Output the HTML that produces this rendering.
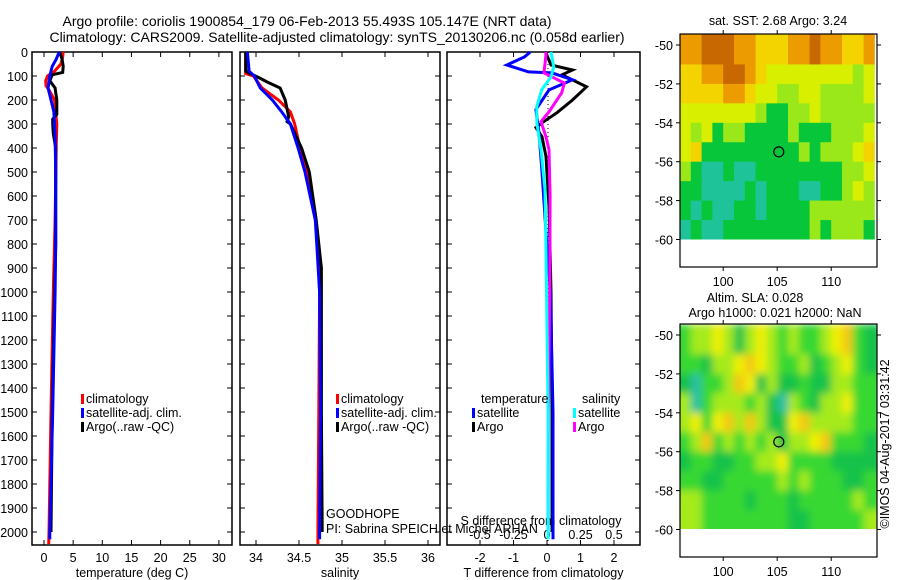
<!DOCTYPE html>
<html><head><meta charset="utf-8">
<style>
html,body{margin:0;padding:0;background:#fff;}
svg{display:block;font-family:"Liberation Sans",sans-serif;}
text{fill:#000;}
</style></head>
<body>
<svg id="fig" width="900" height="580" viewBox="0 0 900 580" xmlns="http://www.w3.org/2000/svg">
<defs>
<filter id="blur" x="-5%" y="-5%" width="110%" height="110%"><feGaussianBlur stdDeviation="4"/></filter>
<clipPath id="slaclip"><rect x="680" y="324" width="197" height="205"/></clipPath>
</defs>
<text x="307" y="26" font-size="14" text-anchor="middle">Argo profile: coriolis 1900854_179 06-Feb-2013 55.493S 105.147E (NRT data)</text>
<text x="337" y="42" font-size="14" text-anchor="middle">Climatology: CARS2009. Satellite-adjusted climatology: synTS_20130206.nc (0.058d earlier)</text>
<g id="plots"></g>
<text transform="translate(889,444) rotate(-90)" font-size="12.5" text-anchor="middle">©IMOS 04-Aug-2017 03:31:42</text>
</svg>
<script>
// ---------- data ----------
const tempClimDepth = [0,20,50,80,100,120,140,160,200,300,400,700,1000,1500,2000,2050];
const tempClimVal   = [3.3,3.2,2.9,1.8,0.6,0.3,0.35,0.9,1.8,2.2,2.1,1.9,1.6,1.2,0.85,0.8];
const tempSatDepth  = [0,30,60,100,150,200,250,350,500,800,1000,1500,2000,2030];
const tempSatVal    = [2.6,2.1,1.4,1.0,0.7,1.2,1.7,1.9,2.0,2.0,1.9,1.5,1.0,1.0];
const tempArgoDepth = [0,30,60,85,95,120,150,200,260,280,300,340,400,800,1000,1500,2000];
const tempArgoVal   = [2.7,3.1,3.3,3.2,1.4,1.0,1.9,2.2,2.2,1.5,1.5,1.6,2.0,2.0,1.8,1.4,1.2];
const salClimDepth  = [0,90,100,150,200,250,300,400,500,600,700,800,1000,1500,2000,2050];
const salClimVal    = [33.88,33.88,33.97,34.07,34.26,34.40,34.45,34.51,34.59,34.65,34.69,34.72,34.74,34.73,34.72,34.72];
const salSatDepth   = [0,80,100,150,200,250,300,400,500,700,1000,1500,2000,2030];
const salSatVal     = [33.90,33.92,33.98,34.05,34.19,34.30,34.40,34.49,34.57,34.69,34.74,34.75,34.74,34.74];
const salArgoDepth  = [0,80,110,125,150,200,270,290,300,400,500,700,900,1000,1500,2000];
const salArgoVal    = [33.88,33.88,34.05,34.13,34.28,34.34,34.38,34.36,34.40,34.53,34.62,34.70,34.76,34.76,34.76,34.77];
const dTSatDepth  = [0,20,54,83,87,116,158,240,336,500,750,1000,1500,2000,2030];
const dTSatVal    = [-0.5,-0.67,-1.2,-0.55,0.15,0.76,0.06,-0.33,-0.24,-0.15,-0.03,0.1,0.18,0.18,0.18];
const dTArgoDepth = [0,4,54,75,95,145,200,253,295,315,353,436,643,1000,1500,2000];
const dTArgoVal   = [0,-0.03,0.12,0.76,0.45,1.18,0.76,0.3,-0.15,-0.33,-0.15,-0.03,0.06,0.12,0.15,0.15];
const dSSatDepth  = [0,62,104,158,228,295,407,573,800,1500,2030];
const dSSatVal    = [0.03,0.05,0.03,-0.04,-0.076,-0.076,-0.045,-0.015,-0.008,0.008,0.008];
const dSArgoDepth = [0,12,50,87,129,170,249,290,353,407,600,1000,1500,2000];
const dSArgoVal   = [-0.01,-0.008,-0.015,-0.023,0.13,0.11,0.015,-0.045,-0.008,0.015,0.023,0.02,0.01,0.008];
const depthTicks = [0,100,200,300,400,500,600,700,800,900,1000,1100,1200,1300,1400,1500,1600,1700,1800,1900,2000];
const tempTicks = [0,5,10,15,20,25,30];
const salTicks = ['34','34.5','35','35.5','36'];
const dTTicks = ['-2','-1','0','1','2'];
const dSTicks = ['-0.5','-0.25','0','0.25','0.5'];
const mapLonTicks = [100,105,110];
const mapLatTicks = [-50,-52,-54,-56,-58,-60];
const argoLon = 105.147, argoLat = -55.493;
const sstColors = ['#1ec39a','#08c63a','#9ae81a','#d8f000','#f4d400','#ec9c00','#c86800'];
const slaColors = ['#2cbfa2','#14c248','#38d830','#a6ea1e','#f0f000','#f2c818'];
const sstGrid = [
'556665544455655445',
'445566543333333323',
'444455433223322223',
'333333321122322222',
'323122111121112223',
'341111111112122234',
'210010011111111223',
'110000101110011232',
'101001101111222222',
'010011111111212221'];
const slaGrid = [
'233431343232234521',
'221334543223123421',
'102235413112113322',
'302333231032133422',
'342453531145333322',
'235232323133452221',
'122112233422221111',
'221122222323222112',
'332222122212222232',
'332222222211222223'];

// ---------- helpers ----------
const NS='http://www.w3.org/2000/svg';
const root=document.getElementById('plots');
function mk(tag,attrs,parent){const e=document.createElementNS(NS,tag);for(const k in attrs)e.setAttribute(k,attrs[k]);(parent||root).appendChild(e);return e;}
const yTop=52, yBot=545;
const yD=d=>52+d*0.24;
function txt(x,y,s,size,anchor,parent){const t=mk('text',{x:x,y:y,'font-size':size||12.5,'text-anchor':anchor||'start'},parent);t.textContent=s;return t;}

function panel(name,x0,x1,fx,ticksVals,ticksLab,depthLabels,xtitle){
  const g=mk('g',{});
  
  
  mk('rect',{x:x0,y:yTop,width:x1-x0,height:yBot-yTop,fill:'none',stroke:'#000','stroke-width':1.5},g);
  depthTicks.forEach(d=>{
    const y=yD(d);
    mk('line',{x1:x0,y1:y,x2:x0+5,y2:y,stroke:'#000'},g);
    mk('line',{x1:x1,y1:y,x2:x1-5,y2:y,stroke:'#000'},g);
    if(depthLabels){const t=txt(x0-4,y+5,String(d),12.5,'end',g);}
  });
  ticksVals.forEach((v,i)=>{
    const x=fx(v);
    mk('line',{x1:x,y1:yTop,x2:x,y2:yTop+5,stroke:'#000'},g);
    mk('line',{x1:x,y1:yBot,x2:x,y2:yBot-5,stroke:'#000'},g);
    const t=txt(x,562,ticksLab[i],12.5,'middle',g);
    
    
  });
  const tt=txt((x0+x1)/2,577,xtitle,12.5,'middle',g);
  
  
  return g;
}
function line(g,name,depths,vals,fx,color,w){
  const pts=depths.map((d,i)=>fx(vals[i]).toFixed(1)+','+yD(d).toFixed(1)).join(' ');
  const p=mk('polyline',{points:pts,fill:'none',stroke:color,'stroke-width':w||3,'stroke-linejoin':'miter'},g);
  
  
}
function legend(g,x,y,color,label,name){
  mk('rect',{x:x-3,y:y-9,width:3,height:10,fill:color},g);
  const t=txt(x+2,y,label,12.5,'start',g);
  
  
}

// ---------- temperature panel ----------
const fT=t=>44+t*5.83;
const gT=panel('temperature-panel',32,232,fT,tempTicks,tempTicks.map(String),true,'temperature (deg C)');
line(gT,'temp-climatology-line',tempClimDepth,tempClimVal,fT,'#ff0000');
line(gT,'temp-argo-line',tempArgoDepth,tempArgoVal,fT,'#000000');
line(gT,'temp-satellite-line',tempSatDepth,tempSatVal,fT,'#0000ff');
legend(gT,84,403,'#ff0000','climatology','legend-climatology');
legend(gT,84,417,'#0000ff','satellite-adj. clim.','legend-satellite');
legend(gT,84,431,'#000000','Argo(..raw -QC)','legend-argo');

// ---------- salinity panel ----------
const fS=s=>256+(s-34)*86;
const gS=panel('salinity-panel',240,440,fS,salTicks.map(Number),salTicks,false,'salinity');
line(gS,'sal-climatology-line',salClimDepth,salClimVal,fS,'#ff0000');
line(gS,'sal-argo-line',salArgoDepth,salArgoVal,fS,'#000000');
line(gS,'sal-satellite-line',salSatDepth,salSatVal,fS,'#0000ff');
legend(gS,339,403,'#ff0000','climatology','legend-climatology');
legend(gS,339,417,'#0000ff','satellite-adj. clim.','legend-satellite');
legend(gS,339,431,'#000000','Argo(..raw -QC)','legend-argo');
txt(326,518,'GOODHOPE',12.5,'start',gS);
txt(326,533,'PI: Sabrina SPEICH et Michel ARHAN',12.5,'start',gS);

// ---------- difference panel ----------
const fdT=v=>547+v*33.5;
const fdS=v=>547+v*134;
const gD=panel('difference-panel',447,640,fdT,dTTicks.map(Number),dTTicks,false,'T difference from climatology');
mk('line',{x1:548,y1:yTop,x2:548,y2:yBot,stroke:'#000','stroke-dasharray':'1,3'},gD);
dSTicks.forEach(v=>{const t=txt(fdS(+v),539,v,12.5,'middle',gD);});
txt(541,525,'S difference from climatology',12.5,'middle',gD);
line(gD,'dt-argo-line',dTArgoDepth,dTArgoVal,fdT,'#000000');
line(gD,'dt-satellite-line',dTSatDepth,dTSatVal,fdT,'#0000ff');
line(gD,'ds-argo-line',dSArgoDepth,dSArgoVal,fdS,'#ff00ff');
line(gD,'ds-satellite-line',dSSatDepth,dSSatVal,fdS,'#00ffff');
txt(481,403,'temperature',12.5,'start',gD);
txt(582,403,'salinity',12.5,'start',gD);
legend(gD,475,417,'#0000ff','satellite','legend-t-satellite');
legend(gD,475,431,'#000000','Argo','legend-t-argo');
legend(gD,576,417,'#00ffff','satellite','legend-s-satellite');
legend(gD,576,431,'#ff00ff','Argo','legend-s-argo');

// ---------- maps ----------
function map(name,top,grid,colors,titles,smooth){
  const g=mk('g',{});
  
  
  const fx=lon=>680+(lon-96)*10.8;
  const fy=lat=>top+11+(-50-lat)*19.45;
  const cw=10.8, ch=19.45;
  const outer=smooth?mk('g',{'clip-path':'url(#slaclip)'},g):g;
  const cells=smooth?mk('g',{filter:'url(#blur)'},outer):g;
  grid.forEach((row,r)=>{
    [...row].forEach((c,k)=>{
      const extraTop=(r===0)?11:0;
      const extraBot=(smooth&&r===grid.length-1)?8:0;
      const extraX=smooth?((k===0)?-8:0):0;
      const extraW=smooth?((k===0||k===row.length-1)?8:0):0;
      const cell=mk('rect',{x:(fx(96+k)+extraX).toFixed(2),y:(fy(-50-r)-extraTop).toFixed(2),width:cw+0.4+extraW,height:ch+0.4+extraTop+extraBot,fill:colors[+c]},cells);
      
      
    });
  });
  mk('rect',{x:680,y:fy(-60),width:197,height:top+233-fy(-60),fill:'#fff'},g);
  mk('rect',{x:680,y:top,width:197,height:233,fill:'none',stroke:'#000','stroke-width':1.2},g);
  mapLonTicks.forEach(l=>{
    const x=fx(l);
    mk('line',{x1:x,y1:top,x2:x,y2:top-4,stroke:'#000'},g);
    mk('line',{x1:x,y1:top+233,x2:x,y2:top+237,stroke:'#000'},g);
    const t=txt(x,top+252,String(l),12.5,'middle',g);
    
    
  });
  mapLatTicks.forEach(l=>{
    const y=fy(l);
    mk('line',{x1:680,y1:y,x2:676,y2:y,stroke:'#000'},g);
    mk('line',{x1:877,y1:y,x2:881,y2:y,stroke:'#000'},g);
    const t=txt(673,y+5,String(l),12.5,'end',g);
    
    
  });
  const c=mk('circle',{cx:fx(argoLon),cy:fy(argoLat),r:5,fill:'none',stroke:'#000','stroke-width':1.2},g);
  
  
  titles.forEach(t=>{const e=txt(t[0],t[1],t[2],12.5,'middle',g);});
}
map('sst-map',34,sstGrid,sstColors,[[778,25,'sat. SST: 2.68 Argo: 3.24']],false);
map('sla-map',324,slaGrid,slaColors,[[755,302,'Altim. SLA: 0.028'],[775,317,'Argo h1000: 0.021 h2000: NaN']],true);
</script>
</body></html>
